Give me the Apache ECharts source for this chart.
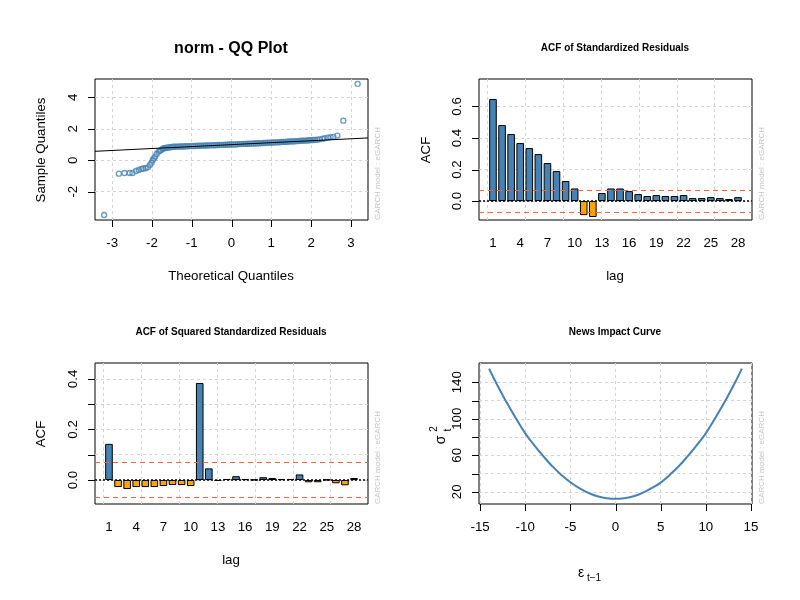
<!DOCTYPE html>
<html><head><meta charset="utf-8">
<script src="https://cdn.jsdelivr.net/npm/echarts@6/dist/echarts.min.js"></script>
<style>html,body{margin:0;padding:0;background:#fff}#c{width:800px;height:600px}</style>
</head><body><div id="c"></div>
<script>
// ---------- QQ plot data (theoretical quantile, sample quantile) ----------
const qqTheo = [-3.20,-2.83,-2.69,-2.56,-2.49,-2.40,-2.33,-2.26,-2.22,-2.16,-2.10,-2.05,-2.01,-1.98,-1.95,-1.92,-1.88,-1.83,-1.80,-1.77,-1.73,-1.70,-1.66,-1.62,
 -1.58,-1.54,-1.50,-1.46,-1.42,-1.38,-1.34,-1.30,-1.25,-1.20,-1.15,-1.10,-1.05,-1.00,-0.95,-0.90,-0.85,-0.80,-0.75,-0.70,-0.65,-0.60,-0.55,-0.50,-0.45,-0.40,-0.35,-0.30,-0.25,-0.20,-0.15,-0.10,-0.05,
 0.00,0.05,0.10,0.15,0.20,0.25,0.30,0.35,0.40,0.45,0.50,0.55,0.60,0.65,0.70,0.75,0.80,0.85,0.90,0.95,1.00,1.05,1.10,1.15,1.20,1.25,1.30,1.35,1.40,1.45,1.50,1.55,1.60,1.65,1.70,1.75,1.80,1.85,1.90,1.95,2.00,2.05,2.10,2.15,
 2.21,2.28,2.34,2.42,2.49,2.56,2.66,2.81,3.17];
const qqSample = [-3.48,-0.85,-0.81,-0.81,-0.81,-0.68,-0.62,-0.55,-0.52,-0.51,-0.45,-0.30,-0.15,0.02,0.12,0.23,0.40,0.55,0.60,0.66,0.72,0.76,0.78,0.80,
 0.82,0.83,0.84,0.86,0.86,0.87,0.87,0.88,0.88,0.88,0.89,0.89,0.90,0.90,0.91,0.91,0.92,0.92,0.93,0.93,0.94,0.94,0.95,0.95,0.96,0.96,0.97,0.97,0.98,0.98,0.99,0.99,1.00,
 1.00,1.01,1.01,1.02,1.03,1.03,1.04,1.04,1.05,1.05,1.06,1.07,1.07,1.08,1.08,1.09,1.10,1.10,1.11,1.12,1.12,1.13,1.14,1.14,1.15,1.16,1.17,1.17,1.18,1.19,1.20,1.20,1.21,1.22,1.23,1.24,1.24,1.25,1.26,1.27,1.28,1.29,1.30,1.31,
 1.33,1.36,1.40,1.44,1.47,1.49,1.57,2.52,4.86];
const qqLineX = [-3.43, 3.43];
const qqLineY = [0.57, 1.42];
const qqXTicks = [-3,-2,-1,0,1,2,3];
const qqYTicks = [-2,0,2,4];

// ---------- ACF data ----------
const lags = [1,2,3,4,5,6,7,8,9,10,11,12,13,14,15,16,17,18,19,20,21,22,23,24,25,26,27,28];
const acfStd = [0.647,0.482,0.425,0.368,0.336,0.298,0.241,0.190,0.127,0.080,-0.089,-0.101,0.051,0.080,0.080,0.063,0.044,0.032,0.038,0.032,0.032,0.038,0.019,0.019,0.025,0.019,0.013,0.025];
const acfSq = [0.143,-0.028,-0.036,-0.028,-0.028,-0.028,-0.024,-0.020,-0.020,-0.024,0.384,0.046,-0.004,0.004,0.015,0.004,0.001,0.011,0.008,0.004,0.004,0.022,-0.009,-0.009,0.001,-0.013,-0.021,0.008];
const confBand = 0.075;
const lagLabels = [1,4,7,10,13,16,19,22,25,28];
const acfGridLags = [0.42,4.58,8.75,12.92,17.08,21.25,25.42];
const acfStdYTicks = [0,0.2,0.4,0.6];
const acfSqYTicks = [0,0.1,0.2,0.3,0.4];
const acfSqYLabels = [0,0.2,0.4];

// ---------- News impact curve ----------
const nicEps = [-14,-13,-12,-11,-10,-9,-8,-7,-6,-5,-4,-3,-2,-1,0,1,2,3,4,5,6,7,8,9,10,11,12,13,14];
const nicSigma2 = [155,135,117,100,84,71,59,48,38.5,30.5,24,18.8,15,13,12.3,13,15,18.8,24,30,38.5,48,59,71,84,100,117,135,155];
const nicXTicks = [-15,-10,-5,0,5,10,15];
const nicYTicks = [20,40,60,80,100,120,140];
const nicYLabels = [20,60,100,140];

// ---------- axis ranges ----------
const XR = [[-3.43, 3.43], [-0.54, 29.54], [-0.54, 29.54], [-15.12, 15.12]];
const YR = [[-3.8, 5.17], [-0.12, 0.774], [-0.095, 0.463], [6.6, 161.1]];

// ---------- styling ----------
const FONT = 'Liberation Sans, Arial, sans-serif';
const BLUE = '#4682B4', ORANGE = '#FFA500', RED = '#FF6347', GRIDC = '#d3d3d3';
const FS = 13.3;

function xAx(gi, ticks, labels, fmt) {
  return {
    type: 'value', gridIndex: gi, min: XR[gi][0], max: XR[gi][1], position: 'bottom',
    axisLine: {show: false, onZero: false},
    axisTick: {show: false, customValues: ticks},
    axisLabel: {customValues: labels, color: '#000', fontSize: FS, fontFamily: FONT, margin: 17, formatter: fmt},
    splitLine: {show: true, lineStyle: {color: GRIDC, type: [3, 3], width: 1}}
  };
}
function yAx(gi, ticks, labels, fmt) {
  return {
    type: 'value', gridIndex: gi, min: YR[gi][0], max: YR[gi][1], position: 'left',
    axisLine: {show: false, onZero: false},
    axisTick: {show: false, customValues: ticks},
    axisLabel: {customValues: labels, rotate: 90, color: '#000', fontSize: FS, fontFamily: FONT, margin: 15, formatter: fmt},
    splitLine: {show: true, lineStyle: {color: GRIDC, type: [3, 3], width: 1}}
  };
}
const f1 = v => Number(v).toFixed(1);
const f0 = v => String(Math.round(v));

// tick marks drawn through the axis scale (custom series)
function tickSeries(gi, dim, values) {
  return {
    type: 'custom', xAxisIndex: gi, yAxisIndex: gi, clip: false, silent: true, z: 6,
    data: values.map(v => (dim === 'x' ? [v, YR[gi][0]] : [XR[gi][0], v])),
    renderItem: (params, api) => {
      const p = api.coord([api.value(0), api.value(1)]);
      if (dim === 'x') {
        const x = Math.round(p[0]) + 0.5;
        return {type: 'line', shape: {x1: x, y1: p[1], x2: x, y2: p[1] + 7}, style: {stroke: '#000', lineWidth: 1}};
      }
      const y = Math.round(p[1]) + 0.5;
      return {type: 'line', shape: {x1: p[0] - 7, y1: y, x2: p[0], y2: y}, style: {stroke: '#000', lineWidth: 1}};
    }
  };
}

function acfSeries(gi, values) {
  return {
    type: 'bar', xAxisIndex: gi, yAxisIndex: gi,
    data: lags.map((l, i) => [l, values[i]]),
    barWidth: 7.6,
    itemStyle: {color: p => (p.value[1] >= 0 ? BLUE : ORANGE), borderColor: '#000', borderWidth: 1},
    markLine: {
      silent: true, symbol: 'none', label: {show: false}, animation: false,
      data: [
        {yAxis: confBand, lineStyle: {color: RED, type: [5, 4], width: 1}},
        {yAxis: -confBand, lineStyle: {color: RED, type: [5, 4], width: 1}},
        {yAxis: 0, lineStyle: {color: '#000', type: [2, 2], width: 1.5}}
      ]
    }
  };
}

function txt(x, y, text, font, opts) {
  return Object.assign({type: 'text', x: x, y: y, silent: true,
    style: {text: text, font: font, fill: '#000', align: 'center', verticalAlign: 'middle'}}, opts || {});
}
function side(x, y) {
  return {type: 'text', x: x, y: y, rotation: Math.PI / 2, silent: true,
    style: {text: 'GARCH model : eGARCH', font: '8px ' + FONT, fill: '#c4c4c4', align: 'left', verticalAlign: 'middle'}};
}
const R90 = {rotation: Math.PI / 2};

const grids = [
  {left: 95, top: 79, width: 273, height: 141},
  {left: 479, top: 79, width: 273, height: 141},
  {left: 95, top: 363, width: 273, height: 141},
  {left: 479, top: 363, width: 273, height: 141}
].map(g => Object.assign({show: true, borderColor: '#000', borderWidth: 1, backgroundColor: 'transparent', containLabel: false}, g));

const option = {
  animation: false,
  backgroundColor: '#fff',
  grid: grids,
  xAxis: [
    xAx(0, qqXTicks, qqXTicks, f0),
    xAx(1, acfGridLags, lagLabels, f0),
    xAx(2, acfGridLags, lagLabels, f0),
    xAx(3, nicXTicks, nicXTicks, f0)
  ],
  yAxis: [
    yAx(0, qqYTicks, qqYTicks, f0),
    yAx(1, acfStdYTicks, acfStdYTicks, f1),
    yAx(2, acfSqYTicks, acfSqYLabels, f1),
    yAx(3, nicYTicks, nicYLabels, f0)
  ],
  series: [
    {type: 'scatter', xAxisIndex: 0, yAxisIndex: 0,
     data: qqTheo.map((q, i) => [q, qqSample[i]]),
     symbol: 'circle', symbolSize: 5,
     itemStyle: {color: 'rgba(0,0,0,0)', borderColor: BLUE, borderWidth: 1.4}, z: 3},
    {type: 'line', xAxisIndex: 0, yAxisIndex: 0,
     data: [[qqLineX[0], qqLineY[0]], [qqLineX[1], qqLineY[1]]],
     symbol: 'none', lineStyle: {color: '#000', width: 1}, z: 4},
    acfSeries(1, acfStd),
    acfSeries(2, acfSq),
    {type: 'line', xAxisIndex: 3, yAxisIndex: 3,
     data: nicEps.map((e, i) => [e, nicSigma2[i]]),
     smooth: true, symbol: 'none', lineStyle: {color: BLUE, width: 2}},
    tickSeries(0, 'x', qqXTicks), tickSeries(0, 'y', qqYTicks),
    tickSeries(1, 'y', acfStdYTicks),
    tickSeries(2, 'y', acfSqYTicks),
    tickSeries(3, 'x', nicXTicks), tickSeries(3, 'y', nicYTicks)
  ],
  graphic: [
    txt(231, 49, 'norm - QQ Plot', 'bold 16px ' + FONT),
    txt(615, 48, 'ACF of Standardized Residuals', 'bold 10px ' + FONT),
    txt(231, 332, 'ACF of Squared Standardized Residuals', 'bold 10px ' + FONT),
    txt(615, 332, 'News Impact Curve', 'bold 10px ' + FONT),
    txt(231, 276, 'Theoretical Quantiles', FS + 'px ' + FONT),
    txt(41, 150, 'Sample Quantiles', FS + 'px ' + FONT, R90),
    txt(615, 276, 'lag', FS + 'px ' + FONT),
    txt(426, 150, 'ACF', FS + 'px ' + FONT, R90),
    txt(231, 560, 'lag', FS + 'px ' + FONT),
    txt(41, 434, 'ACF', FS + 'px ' + FONT, R90),
    txt(441, 440, 'σ', '14px ' + FONT, R90),
    txt(434, 429, '2', '10px ' + FONT, R90),
    txt(448, 430, 't', '10px ' + FONT, R90),
    txt(581, 573, 'ε', '14px ' + FONT),
    txt(587, 578, 't−1', '10px ' + FONT),
    side(378, 220), side(762, 220), side(378, 504), side(762, 504)
  ]
};
option.graphic[14].style.align = 'left';

const chart = echarts.init(document.getElementById('c'), null, {renderer: 'canvas'});
chart.setOption(option);
</script></body></html>
